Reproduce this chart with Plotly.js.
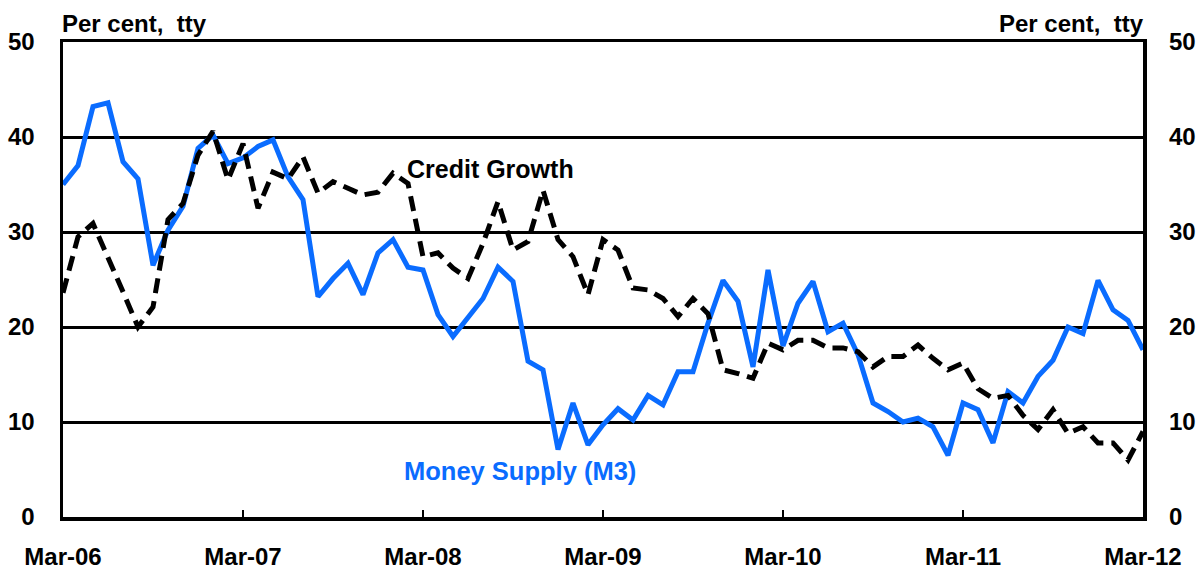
<!DOCTYPE html>
<html>
<head>
<meta charset="utf-8">
<script src="https://cdn.plot.ly/plotly-3.0.1.min.js"></script>
<style>
html,body{margin:0;padding:0;background:#fff;}
#chart{width:1202px;height:571px;}
</style>
</head>
<body>
<div id="chart"></div>
<script>
// Monthly, Mar-06 .. Mar-12 (73 months)
var monthNames = ['Jan','Feb','Mar','Apr','May','Jun','Jul','Aug','Sep','Oct','Nov','Dec'];
var months = [];
for (var k = 0; k < 73; k++) {
  var m = (2 + k) % 12;
  var y = 6 + Math.floor((2 + k) / 12);
  months.push(monthNames[m] + '-' + (y < 10 ? '0' + y : '' + y));
}

var moneySupply = [
  35.0, 37.0, 43.2, 43.6, 37.4, 35.6, 26.5, 30.2, 32.7, 38.8, 40.2, 37.2,
  37.8, 39.0, 39.7, 35.8, 33.4, 23.2, 25.1, 26.7, 23.4, 27.8, 29.2, 26.3,
  26.0, 21.3, 19.0, 21.1, 23.0, 26.3, 24.8, 16.4, 15.5, 7.1, 12.0, 7.6,
  9.7, 11.4, 10.2, 12.8, 11.8, 15.3, 15.3, 20.4, 24.9, 22.7, 15.8, 26.0,
  18.0, 22.5, 24.8, 19.5, 20.4, 17.1, 12.0, 11.1, 10.0, 10.4, 9.5, 6.5,
  12.0, 11.3, 7.8, 13.2, 12.0, 14.8, 16.5, 20.0, 19.3, 24.9, 21.8, 20.7,
  17.6
];

var creditGrowth = [
  23.6, 29.5, 30.9, 27.4, 23.7, 20.0, 22.1, 31.3, 33.0, 38.1, 40.6, 35.5,
  39.3, 32.5, 36.3, 35.6, 37.9, 34.1, 35.3, 34.6, 33.9, 34.2, 36.2, 35.1,
  27.4, 27.8, 26.2, 25.1, 28.8, 33.2, 28.1, 29.0, 34.4, 29.2, 27.4, 23.4,
  29.2, 28.1, 24.1, 23.9, 23.0, 21.1, 23.0, 21.4, 15.5, 15.1, 14.6, 18.3,
  17.6, 18.6, 18.6, 17.8, 17.8, 17.4, 15.8, 16.9, 16.9, 18.1, 16.7, 15.5,
  16.2, 13.5, 12.5, 12.8, 10.7, 9.2, 11.3, 8.8, 9.5, 7.8, 7.8, 6.0,
  9.0
];

var tickLabels = ['Mar-06','Mar-07','Mar-08','Mar-09','Mar-10','Mar-11','Mar-12'];
var yTicks = [0, 10, 20, 30, 40, 50];

var FONT = 'Liberation Sans, Arial, sans-serif';
var BLUE = '#0A6CFF';

var traces = [
  {
    x: months, y: moneySupply, type: 'scatter', mode: 'lines',
    line: {color: BLUE, width: 5}, name: 'Money Supply (M3)', xaxis: 'x', yaxis: 'y',
    hoverinfo: 'skip'
  },
  {
    x: months, y: creditGrowth, type: 'scatter', mode: 'lines',
    line: {color: '#000000', width: 5, dash: '15px,8px'}, name: 'Credit Growth', xaxis: 'x', yaxis: 'y2',
    hoverinfo: 'skip'
  }
];

var tickFont = {family: FONT, size: 24, color: '#000', weight: 'bold'};

var layout = {
  width: 1202, height: 571,
  margin: {l: 63, r: 59, t: 42, b: 54, pad: 0},
  paper_bgcolor: '#fff', plot_bgcolor: '#fff',
  showlegend: false,
  font: {family: FONT, color: '#000'},
  xaxis: {
    type: 'category', range: [0, 72],
    tickmode: 'array', tickvals: tickLabels, ticktext: tickLabels,
    ticks: 'inside', ticklen: 7, tickwidth: 1.5, tickcolor: '#000',
    showgrid: false, zeroline: false,
    showline: true, linecolor: '#000', linewidth: 3.5, mirror: true,
    tickfont: tickFont, ticklabelstandoff: 16, tickangle: 0
  },
  yaxis: {
    range: [0, 50], tickmode: 'array', tickvals: yTicks,
    ticks: '', showgrid: true, gridcolor: '#000', gridwidth: 3,
    zeroline: false, showline: true, linecolor: '#000', linewidth: 3.5, mirror: true,
    tickfont: tickFont, ticklabelstandoff: 20
  },
  yaxis2: {
    range: [0, 50], tickmode: 'array', tickvals: yTicks,
    overlaying: 'y', side: 'right', anchor: 'x',
    ticks: '', showgrid: false, zeroline: false, showline: false,
    tickfont: tickFont, ticklabelstandoff: 25
  },
  annotations: [
    {text: '<b>Per cent,\u00a0 tty</b>', xref: 'paper', yref: 'paper', x: 0, y: 1.0385,
     xanchor: 'left', yanchor: 'middle', showarrow: false, xshift: -3,
     font: {family: FONT, size: 24, color: '#000'}},
    {text: '<b>Per cent,\u00a0 tty</b>', xref: 'paper', yref: 'paper', x: 1, y: 1.0385,
     xanchor: 'right', yanchor: 'middle', showarrow: false, xshift: 3,
     font: {family: FONT, size: 24, color: '#000'}},
    {text: '<b>Credit Growth</b>', xref: 'paper', yref: 'paper', x: 0.396, y: 0.733,
     xanchor: 'center', yanchor: 'middle', showarrow: false,
     font: {family: FONT, size: 25, color: '#000'}},
    {text: '<b>Money Supply (M3)</b>', xref: 'paper', yref: 'paper', x: 0.4235, y: 0.097,
     xanchor: 'center', yanchor: 'middle', showarrow: false,
     font: {family: FONT, size: 25.5, color: BLUE}}
  ]
};

Plotly.newPlot('chart', traces, layout, {displayModeBar: false, staticPlot: true});
</script>
</body>
</html>
